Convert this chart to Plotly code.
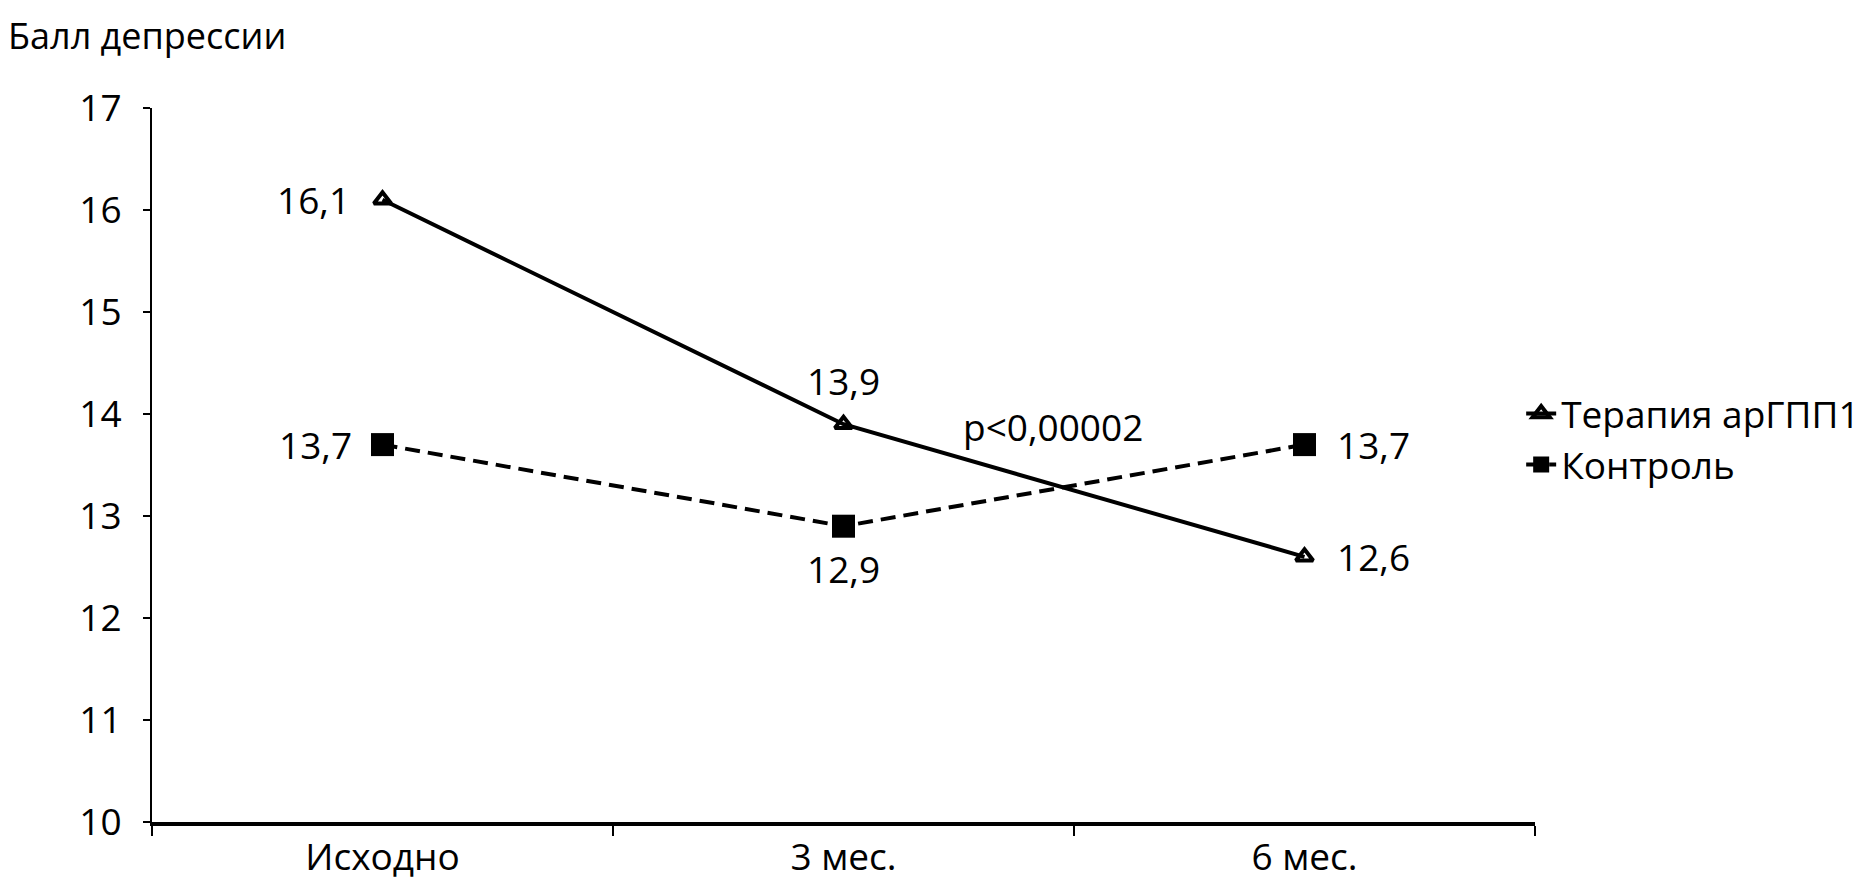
import plotly.graph_objects as go

# data
periods = ["Исходно", "3 мес.", "6 мес."]
therapy = [16.1, 13.9, 12.6]
control = [13.7, 12.9, 13.7]
# where each value label goes relative to its point: (xanchor, xshift, yshift)
therapy_lbl = [("right", -31, 0), ("center", 0, 44), ("left", 30, 0)]
control_lbl = [("right", -29, 0), ("center", 0, -42), ("left", 30, 0)]

FONT = "Open Sans"
BIG = 37

fig = go.Figure()

fig.add_trace(go.Scatter(
    x=periods, y=therapy,
    name="Терапия арГПП1",
    mode="lines+markers",
    line=dict(color="black", width=4),
    marker=dict(symbol="triangle-up-open", size=15, color="black",
                line=dict(color="black", width=4)),
))

fig.add_trace(go.Scatter(
    x=periods, y=control,
    name="Контроль",
    mode="lines+markers",
    line=dict(color="black", width=4, dash="15px,8px"),
    marker=dict(symbol="square", size=23, color="black"),
))

# value labels
for vals, lbl in [(therapy, therapy_lbl), (control, control_lbl)]:
    for i, v in enumerate(vals):
        xa, xs, ys = lbl[i]
        fig.add_annotation(x=periods[i], y=v, xref="x", yref="y",
                           text=f"{v:.1f}".replace(".", ","), showarrow=False,
                           xanchor=xa, yanchor="middle", xshift=xs, yshift=ys,
                           font=dict(size=BIG, color="black", family=FONT))

# p-value between the lines
fig.add_annotation(x=1.455, y=13.88, xref="x", yref="y", text="p<0,00002",
                   showarrow=False, font=dict(size=BIG, color="black", family=FONT))

# y axis title sits horizontally above the axis
fig.add_annotation(x=0, y=1, xref="paper", yref="paper", xshift=-146, yshift=73,
                   xanchor="left", yanchor="middle", text="Балл депрессии",
                   showarrow=False, font=dict(size=36, color="black", family=FONT))

fig.update_layout(
    width=1876, height=887,
    margin=dict(l=144, r=349, t=100, b=73),
    paper_bgcolor="white", plot_bgcolor="white",
    font=dict(family=FONT, size=BIG, color="black"),
    showlegend=True,
    legend=dict(x=0.99, y=0.615, xanchor="left", yanchor="top",
                font=dict(size=BIG, color="black", family=FONT),
                bgcolor="rgba(0,0,0,0)", tracegroupgap=0),
)

fig.update_xaxes(
    type="category", range=[-0.5, 2.5],
    showline=True, linecolor="black", linewidth=4,
    ticks="outside", tickson="boundaries", ticklen=10, tickwidth=2, tickcolor="black",
    showgrid=False, zeroline=False,
    tickfont=dict(size=BIG, color="black", family=FONT),
)

fig.update_yaxes(
    range=[10, 17], dtick=1,
    showline=True, linecolor="black", linewidth=2,
    ticks="outside", ticklen=7, tickwidth=2, tickcolor="black",
    ticklabelstandoff=14,
    showgrid=False, zeroline=False,
    tickfont=dict(size=BIG, color="black", family=FONT),
)

fig.write_html("out.html")
